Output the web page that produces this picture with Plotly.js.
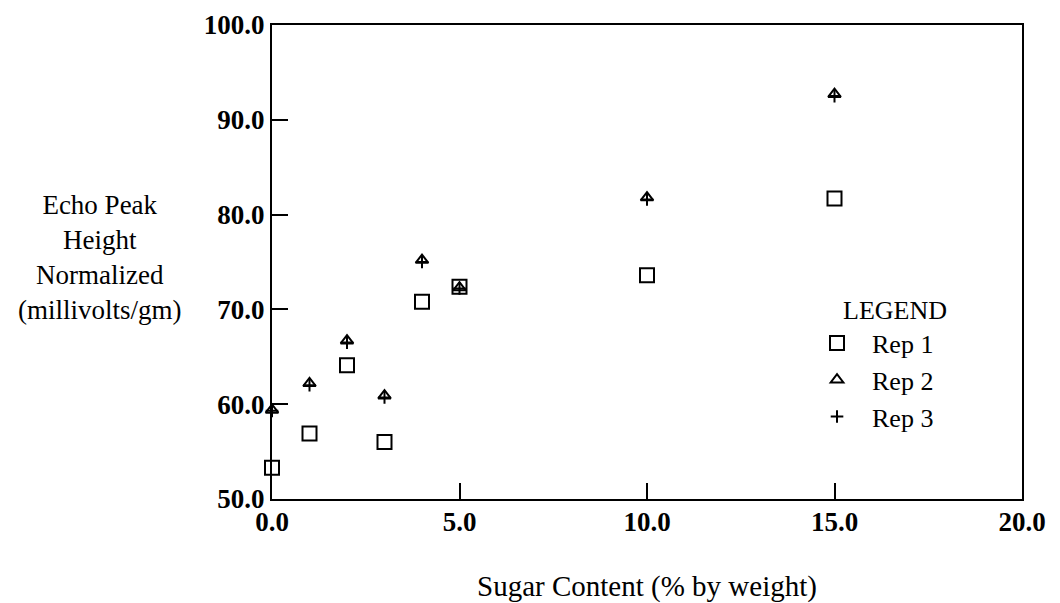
<!DOCTYPE html>
<html>
<head>
<meta charset="utf-8">
<script src="https://cdn.plot.ly/plotly-3.0.1.min.js"></script>
<style>html,body{margin:0;padding:0;background:#fff;}#chart{width:1060px;height:603px;}</style>
</head>
<body>
<div id="chart"></div>
<script>
const sugar = [0, 1, 2, 3, 4, 5, 10, 15];
const rep1 = [53.3, 56.9, 64.1, 56.0, 70.8, 72.4, 73.6, 81.7];
const rep2 = [59.4, 62.2, 66.7, 60.9, 75.2, 72.3, 81.8, 92.7];
const rep3 = [59.3, 62.0, 66.5, 60.7, 75.0, 72.2, 81.6, 92.5];
const seriesNames = ["Rep 1", "Rep 2", "Rep 3"];
const xTickVals = [0, 5, 10, 15, 20];
const xTickText = ["0.0", "5.0", "10.0", "15.0", "20.0"];
const yTickVals = [50, 60, 70, 80, 90, 100];
const yTickText = ["50.0", "60.0", "70.0", "80.0", "90.0", "100.0"];

const FONT = '"Liberation Serif", "Times New Roman", Times, serif';

const traces = [
  {x: sugar, y: rep1, name: seriesNames[0], type: 'scatter', mode: 'markers', cliponaxis: false,
   marker: {symbol: 'square-open', size: 14, color: '#000', line: {width: 2, color: '#000'}}},
  {x: sugar, y: rep2, name: seriesNames[1], type: 'scatter', mode: 'markers', cliponaxis: false,
   marker: {symbol: 'triangle-up-open', size: 11, color: '#000', line: {width: 2, color: '#000'}}},
  {x: sugar, y: rep3, name: seriesNames[2], type: 'scatter', mode: 'markers', cliponaxis: false,
   marker: {symbol: 'cross-thin-open', size: 9, color: '#000', line: {width: 2, color: '#000'}}}
];

const layout = {
  width: 1060, height: 603,
  margin: {l: 272, r: 38, t: 25, b: 104},
  paper_bgcolor: '#fff', plot_bgcolor: '#fff',
  font: {family: FONT, color: '#000', size: 26},
  showlegend: true,
  legend: {
    x: 0.7067, y: 0.45, xanchor: 'left', yanchor: 'top',
    itemwidth: 60,
    font: {family: FONT, size: 26, color: '#000'},
    title: {text: '\u00a0\u00a0\u00a0\u00a0\u00a0\u00a0LEGEND', side: 'top center', font: {family: FONT, size: 26, color: '#000'}},
    bgcolor: 'rgba(0,0,0,0)', borderwidth: 0, itemclick: false
  },
  xaxis: {
    range: [0, 20], tickmode: 'array', tickvals: xTickVals, ticktext: xTickText,
    ticks: 'inside', ticklen: 16, tickwidth: 2, tickcolor: '#000',
    showline: true, linewidth: 2, linecolor: '#000', mirror: true,
    showgrid: false, zeroline: false,
    tickfont: {family: FONT, size: 27, color: '#000', weight: 'bold'},
    ticklabelstandoff: -2,
    title: {text: 'Sugar Content (% by weight)', standoff: 44, font: {family: FONT, size: 29, color: '#000'}}
  },
  yaxis: {
    range: [50, 100], tickmode: 'array', tickvals: yTickVals, ticktext: yTickText,
    ticks: 'inside', ticklen: 16, tickwidth: 2, tickcolor: '#000',
    showline: true, linewidth: 2, linecolor: '#000', mirror: true,
    showgrid: false, zeroline: false,
    tickfont: {family: FONT, size: 27, color: '#000', weight: 'bold'},
    ticklabelstandoff: 0
  },
  annotations: [{
    xref: 'paper', yref: 'paper', x: -0.23, y: 0.509, xanchor: 'center', yanchor: 'middle',
    align: 'center', showarrow: false,
    text: 'Echo Peak<br>Height<br>Normalized<br>(millivolts/gm)',
    font: {family: FONT, size: 27, color: '#000'}
  }]
};

Plotly.newPlot('chart', traces, layout, {staticPlot: true, displayModeBar: false});
</script>
</body>
</html>
